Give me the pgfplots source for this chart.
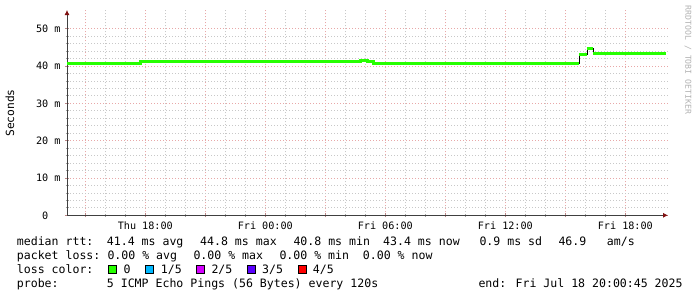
\documentclass[border=0pt]{standalone}
\usepackage{fontspec}
\setmainfont{DejaVu Sans Mono}
\usepackage{pgfplots}
\pgfplotsset{compat=1.18}
\usetikzlibrary{arrows.meta}
\definecolor{lc0}{HTML}{26FF00}
\definecolor{lc1}{HTML}{00B8FF}
\definecolor{lc2}{HTML}{D400FF}
\definecolor{lc3}{HTML}{5A00FF}
\definecolor{lc4}{HTML}{FF0000}
\definecolor{mgrid}{HTML}{E8A8A8}
\definecolor{sgrid}{HTML}{C8C8C8}
\definecolor{arrowc}{HTML}{801010}
\begin{document}
\begin{tikzpicture}[x=1bp,y=-1bp]
\path[use as bounding box] (0,0) rectangle (697,297);
\begin{axis}[
  at={(67bp,-215.3bp)}, anchor=origin,
  scale only axis, width=601bp, height=205.3bp,
  xmin=14.085, xmax=44.135, ymin=0, ymax=55,
  axis x line=bottom, axis y line=left,
  axis line style={black!75, line width=0.8bp, -{Latex[length=5bp,width=5bp,color=arrowc]}},
  xtick={15,18,...,42},
  xticklabels={,Thu 18:00,,Fri 00:00,,Fri 06:00,,Fri 12:00,,Fri 18:00},
  minor x tick num=2,
  ytick={0,10,...,50},
  yticklabels={0\hphantom{00},10 m,20 m,30 m,40 m,50 m},
  minor y tick num=4,
  grid=both,
  major grid style={mgrid, line width=0.8bp, dash pattern=on 1bp off 2bp},
  minor grid style={sgrid, line width=0.8bp, dash pattern=on 1bp off 2bp},
  tick align=center, major tick length=4bp, minor tick length=3bp,
  major tick style={mgrid!80!black, line width=0.8bp},
  minor tick style={sgrid!80!black, line width=0.8bp},
  ticklabel style={font=\fontsize{10.2}{12}\selectfont},
  xticklabel style={yshift=-1bp},
  yticklabel style={xshift=-1bp},
  clip=false,
]
% thin black step line (full series)
\addplot[const plot, black, line width=0.8bp] coordinates {
(14.085,40.8) (14.4,40.75) (14.9,40.8) (15.3,40.75) (15.8,40.8) (16.1,40.65) (16.5,40.7) (16.9,40.6) (17.3,40.65) (17.6,40.6)
(17.75,41.2) (18.3,41.25) (18.7,41.15) (19.1,41.25) (19.6,41.2) (20.4,41.2) (21.0,41.25) (21.6,41.2) (22.5,41.15) (23.2,41.2)
(24.0,41.2) (24.8,41.15) (25.4,41.25) (26.2,41.2) (27.0,41.25) (27.8,41.2) (28.74,41.45) (29.1,41.3)
(29.4,40.75) (30.2,40.7) (31.0,40.75) (31.8,40.7) (32.6,40.75) (33.5,40.7) (34.3,40.75) (35.2,40.7) (36.0,40.75) (36.8,40.7)
(37.6,40.75) (38.4,40.7) (39.2,40.75)
(39.7,43.2) (40.08,44.6) (40.4,43.3) (41.2,43.25) (42.0,43.3) (43.0,43.3) (44.01,43.3)
};
% green median line
\addplot[const plot, lc0, line width=3bp] coordinates {
(14.085,40.8) (14.4,40.75) (14.9,40.8) (15.3,40.75) (15.8,40.8) (16.1,40.65) (16.5,40.7) (16.9,40.6) (17.3,40.65) (17.6,40.6)
(17.75,41.2) (18.3,41.25) (18.7,41.15) (19.1,41.25) (19.6,41.2) (20.4,41.2) (21.0,41.25) (21.6,41.2) (22.5,41.15) (23.2,41.2)
(24.0,41.2) (24.8,41.15) (25.4,41.25) (26.2,41.2) (27.0,41.25) (27.8,41.2) (28.74,41.45) (29.1,41.3)
(29.4,40.75) (30.2,40.7) (31.0,40.75) (31.8,40.7) (32.6,40.75) (33.5,40.7) (34.3,40.75) (35.2,40.7) (36.0,40.75) (36.8,40.7)
(37.6,40.75) (38.4,40.7) (39.2,40.75) (39.7,40.75)
};
\addplot[lc0, line width=3bp] coordinates {(39.7,43.2) (40.08,43.2)};
\addplot[lc0, line width=3bp] coordinates {(40.08,44.6) (40.4,44.6)};
\addplot[const plot, lc0, line width=3bp] coordinates {(40.4,43.3) (41.2,43.25) (42.0,43.3) (43.0,43.3) (44.01,43.3)};
\end{axis}
% y label and watermark
\node[rotate=90, font=\fontsize{11.3}{13}\selectfont] at (10,113) {Seconds};
\node[rotate=-90, font=\fontsize{8.2}{10}\selectfont, text=black!30] at (688,60) {RRDTOOL / TOBI OETIKER};
% legend text
\tikzset{lg/.style={anchor=base west, inner sep=0pt, font=\fontsize{11.6}{14}\selectfont}}
\node[lg] at (16.7,245) {median rtt:};
\node[lg] at (106.7,245) {41.4 ms avg};
\node[lg] at (200,245) {44.8 ms max};
\node[lg] at (293.3,245) {40.8 ms min};
\node[lg] at (383,245) {43.4 ms now};
\node[lg] at (479.3,245) {0.9 ms sd};
\node[lg] at (558.3,245) {46.9};
\node[lg] at (606.7,245) {am/s};
\node[lg] at (16.7,259) {packet loss:};
\node[lg] at (107.3,259) {0.00 \% avg};
\node[lg] at (193.3,259) {0.00 \% max};
\node[lg] at (279.3,259) {0.00 \% min};
\node[lg] at (362.7,259) {0.00 \% now};
\node[lg] at (16.7,273) {loss color:};
\draw[black, line width=0.8bp, fill=lc0] (108.7,265) rectangle (116.3,273);
\node[lg] at (123.3,273) {0};
\draw[black, line width=0.8bp, fill=lc1] (145.7,265) rectangle (153.3,273);
\node[lg] at (160.7,273) {1/5};
\draw[black, line width=0.8bp, fill=lc2] (196.7,265) rectangle (204.3,273);
\node[lg] at (211.3,273) {2/5};
\draw[black, line width=0.8bp, fill=lc3] (247.3,265) rectangle (255.3,273);
\node[lg] at (262,273) {3/5};
\draw[black, line width=0.8bp, fill=lc4] (298.3,265) rectangle (306,273);
\node[lg] at (312.7,273) {4/5};
\node[lg] at (16.7,287) {probe:};
\node[lg] at (106.7,287) {5 ICMP Echo Pings (56 Bytes) every 120s};
\node[lg] at (478.3,287) {end: Fri Jul 18 20:00:45 2025};
\end{tikzpicture}
\end{document}
